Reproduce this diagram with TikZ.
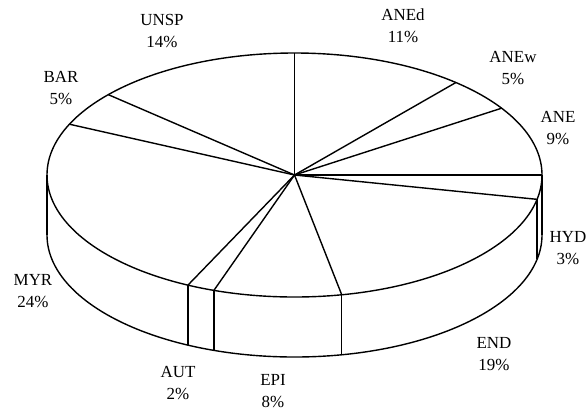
\documentclass[tikz,border=0pt]{standalone}
\usepackage{fontspec}
\setmainfont{Liberation Serif}
\begin{document}
\begin{tikzpicture}[x=1bp,y=1bp,
  edge/.style={line width=1.4bp,line join=round},
  lab/.style={align=center,inner sep=0pt,font=\fontsize{17}{22}\selectfont}]
\useasboundingbox (0,0) rectangle (587,-412);
\def\cx{294.5}\def\cy{-175}\def\rx{247.5}\def\ry{122}\def\dep{60}
\coordinate (c) at (\cx,\cy);
% top ellipse
\draw[edge] (c) ellipse [x radius=\rx, y radius=\ry];
% bottom front arc
\draw[edge] ({\cx-\rx},{\cy-\dep}) arc[start angle=180,end angle=360,x radius=\rx,y radius=\ry];
% vertical edges
\foreach \t in {180,0,-11.5,-79,-109,-115.5}{
  \coordinate (e) at ({\cx+\rx*cos(\t)},{\cy+\ry*sin(\t)});
  \draw[edge] (e) -- ++(0,-\dep);
}
% radial lines
\foreach \t in {90,49.3,33.2,0,-11.5,-79,-109,-115.5,155.4,138.8}{
  \coordinate (r) at ({\cx+\rx*cos(\t)},{\cy+\ry*sin(\t)});
  \draw[edge] (c) -- (r);
}
% labels
\node[lab] (unsp) at (162,-31) {UNSP\\14\%};
\node[lab] (bar) at (61,-88) {BAR\\5\%};
\node[lab] (aned) at (403,-26) {ANEd\\11\%};
\node[lab] (anew) at (513,-68) {ANEw\\5\%};
\node[lab] (ane) at (558,-128) {ANE\\9\%};
\node[lab] (hyd) at (568,-248) {HYD\\3\%};
\node[lab] (end) at (494,-354) {END\\19\%};
\node[lab] (epi) at (273,-391) {EPI\\8\%};
\node[lab] (aut) at (178,-383) {AUT\\2\%};
\node[lab] (myr) at (33,-291) {MYR\\24\%};
\end{tikzpicture}
\end{document}
